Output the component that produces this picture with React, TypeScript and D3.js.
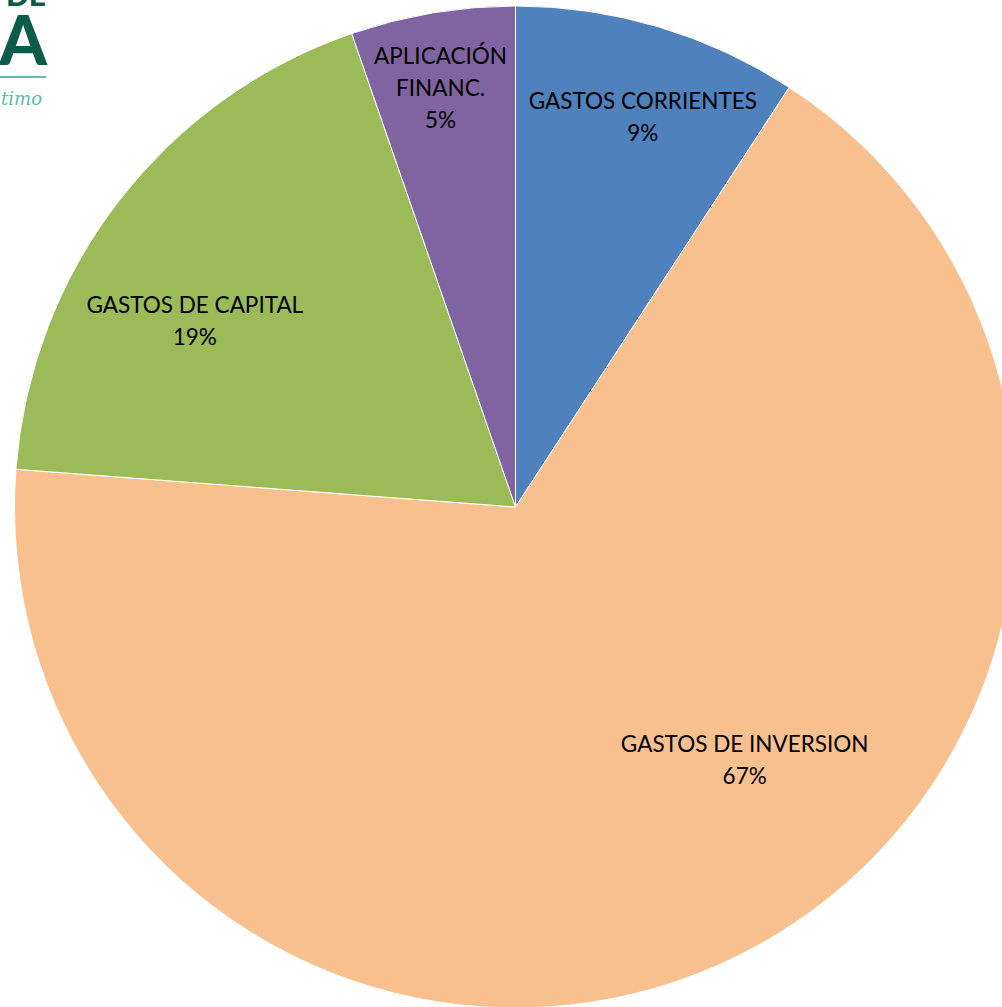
import React from "react";
import * as d3 from "d3";

const categories = ["GASTOS CORRIENTES", "GASTOS DE INVERSION", "GASTOS DE CAPITAL", "APLICACIÓN FINANC."];
const values = [9.2, 67.0, 18.5, 5.3];
const colors = ["#4f81bd", "#f9c08f", "#9bbb59", "#8064a2"];
const labelLines = [["GASTOS CORRIENTES"], ["GASTOS DE INVERSION"], ["GASTOS DE CAPITAL"], ["APLICACIÓN", "FINANC."]];
// label placement as fraction of radius and angle shift (degrees) relative to slice middle
const labelRadius = [0.82, 0.68, 0.74, 0.85];
const labelShift = [1.5, -16, -7.5, -0.6];

const W = 1002;
const H = 1007;

export default function App() {
  const cx = 515.5;
  const cy = 507;
  const r = 501;
  const total = d3.sum(values);
  const pie = d3.pie<number>().sort(null).value((d) => d)(values);
  const arc = d3.arc<d3.PieArcDatum<number>>().innerRadius(0).outerRadius(r);
  const fontSize = 22.5;
  const lh = 32;
  return (
    <div style={{ position: "absolute", left: 0, top: 0 }}>
      <svg width={W} height={H} style={{ display: "block" }}>
        <rect width={W} height={H} fill="#ffffff" />
        <g transform={`translate(${cx},${cy})`}>
          {pie.map((p, i) => (
            <path key={i} d={arc(p) || ""} fill={colors[i]} stroke="#ffffff" strokeWidth={1} />
          ))}
          {pie.map((p, i) => {
            const mid = (p.startAngle + p.endAngle) / 2 + (labelShift[i] * Math.PI) / 180;
            const lr = r * labelRadius[i];
            const x = lr * Math.sin(mid);
            const y = -lr * Math.cos(mid);
            const lines = [...labelLines[i], `${Math.round((values[i] / total) * 100)}%`];
            const y0 = y - ((lines.length - 1) * lh) / 2;
            return (
              <text key={i} textAnchor="middle" fontFamily="Lato, 'Open Sans', sans-serif" fontSize={fontSize} fill="#000">
                {lines.map((l, j) => (
                  <tspan key={j} x={x} y={y0 + j * lh} dominantBaseline="central">{l}</tspan>
                ))}
              </text>
            );
          })}
        </g>
        <g>
          <text x={46} y={6} textAnchor="end" fontFamily="Lato, sans-serif" fontWeight={900} fontSize={30} fill="#0d5c4a">DE</text>
          <text x={47} y={65} textAnchor="end" fontFamily="Lato, sans-serif" fontWeight={900} fontSize={68} fill="#0d5c4a">CA</text>
          <line x1={0} x2={46} y1={77} y2={77} stroke="#5bbcad" strokeWidth={2} />
          <text x={42} y={105} textAnchor="end" fontFamily="'DejaVu Serif', serif" fontStyle="italic" fontSize={18} fill="#5bbcad">timo</text>
        </g>
      </svg>
    </div>
  );
}
